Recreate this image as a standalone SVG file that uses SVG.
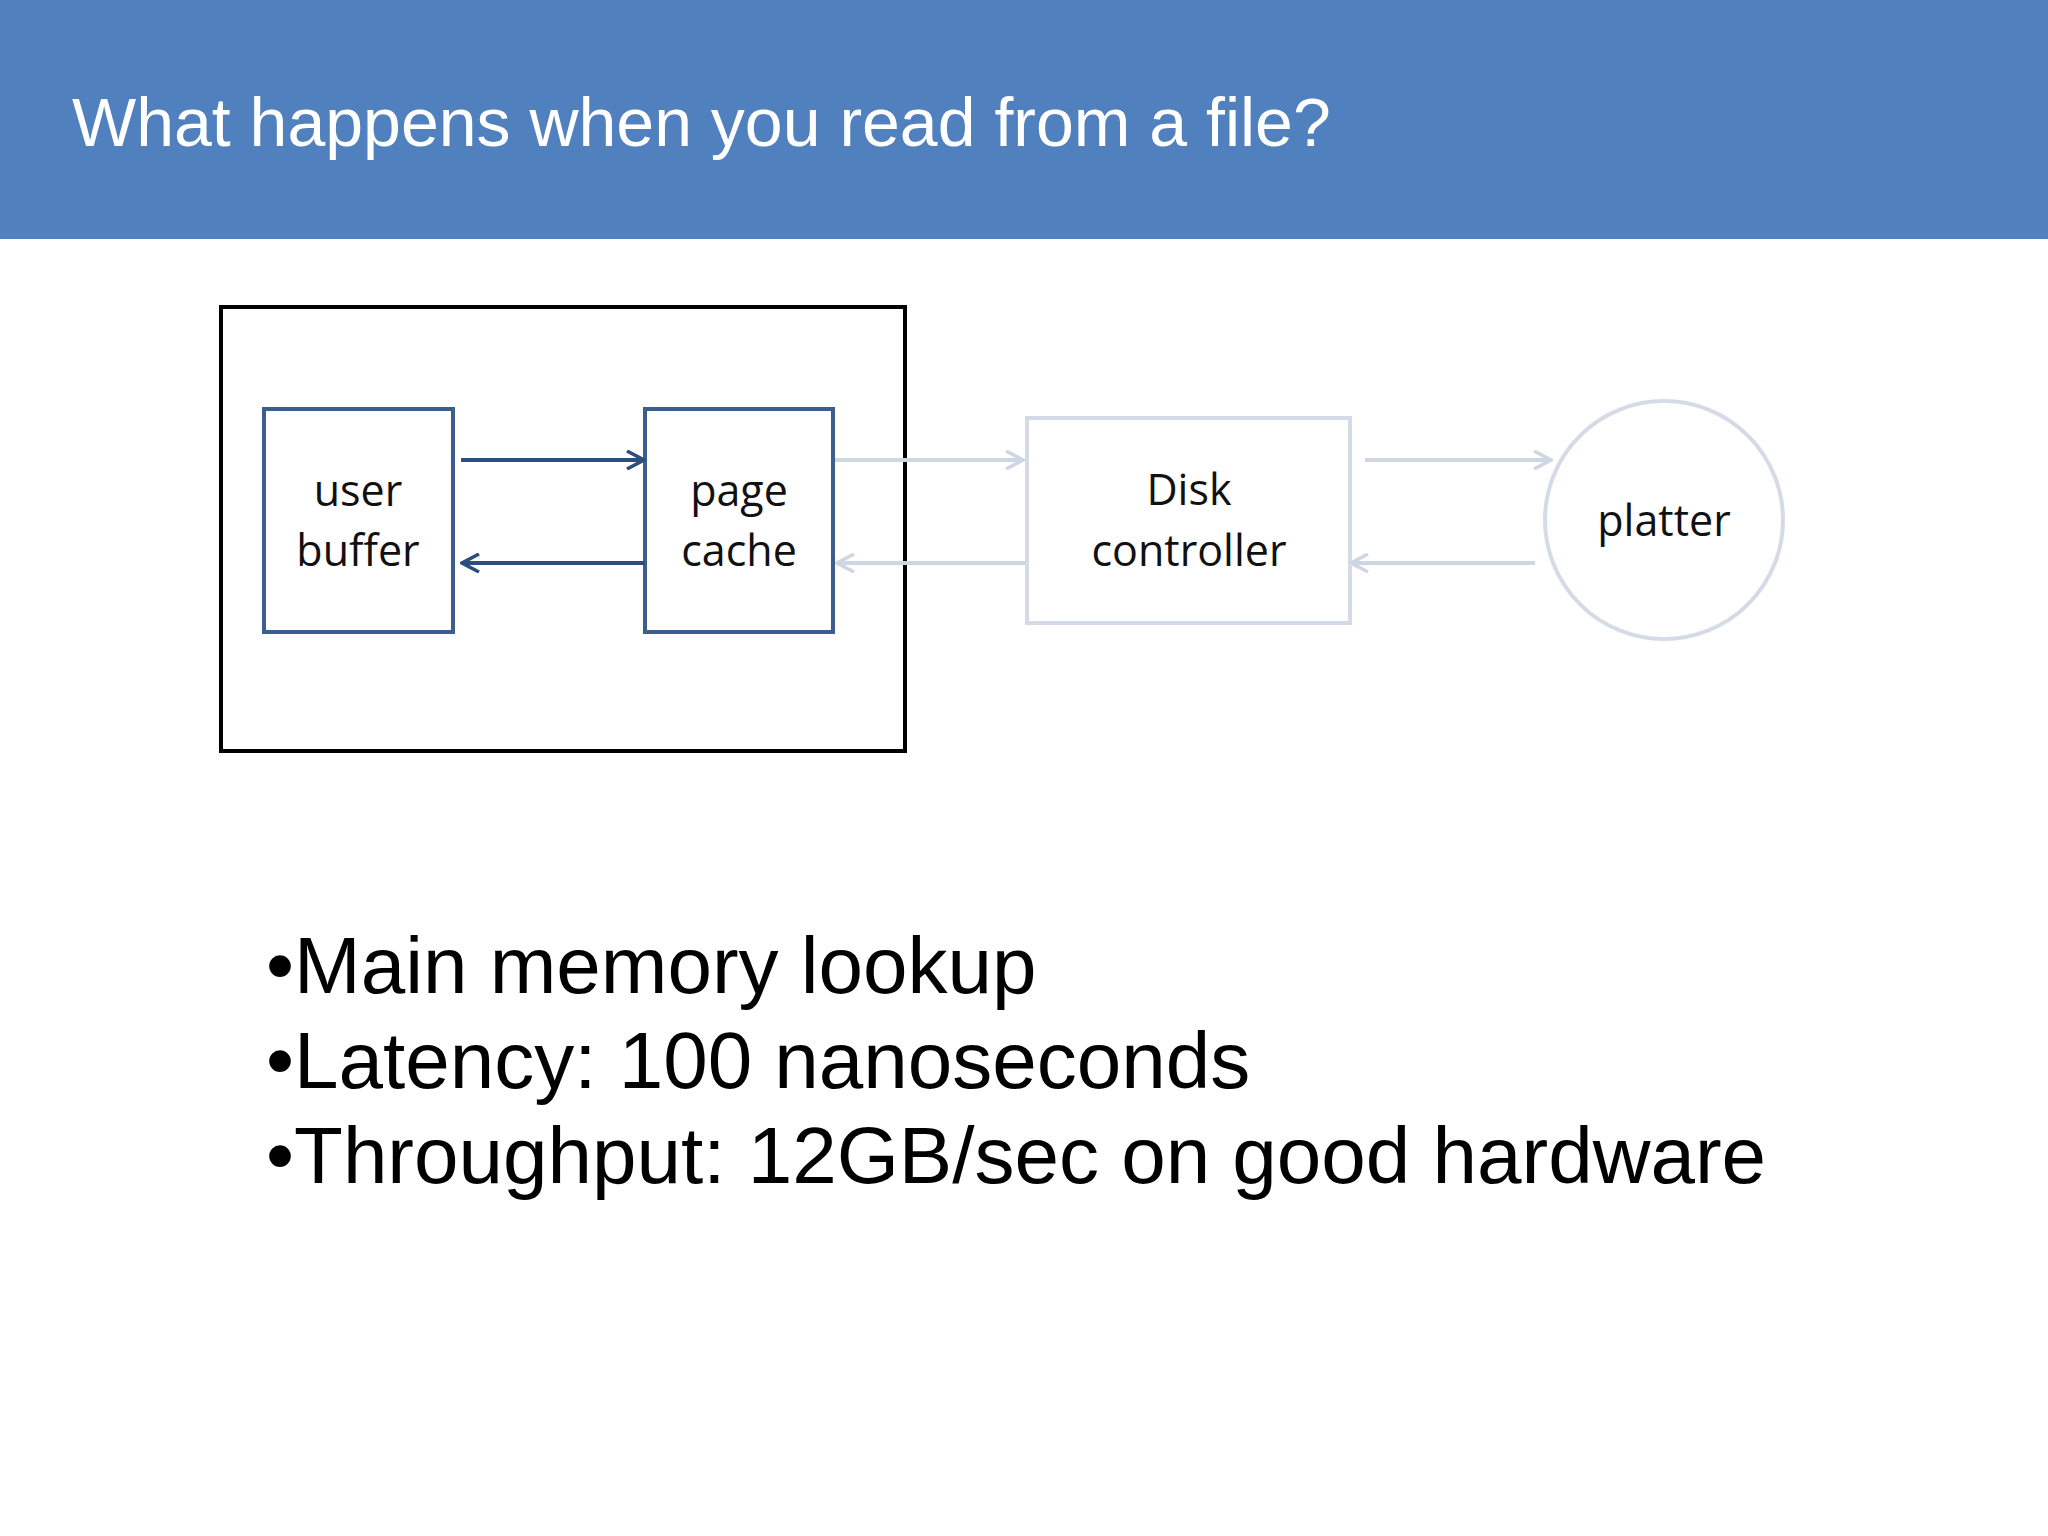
<svg xmlns="http://www.w3.org/2000/svg" width="2048" height="1536" viewBox="0 0 2048 1536">
<defs>
<style>
.lbl{font-family:"Open Sans","Liberation Sans",sans-serif;font-size:43px;fill:#111;text-anchor:middle}
.blt{font-family:"Liberation Sans",Arial,sans-serif;font-size:80px;fill:#000}
.dk{stroke:#2c4e7f;stroke-width:4;fill:none}
.lt{stroke:#cfd6e3;stroke-width:4;fill:none}
</style>
<marker id="ad" markerWidth="20" markerHeight="20" refX="17" refY="10" orient="auto" markerUnits="userSpaceOnUse" viewBox="0 0 20 20"><path d="M1,1 L18,10 L1,19" fill="none" stroke="#2c4e7f" stroke-width="3.5"/></marker>
<marker id="al" markerWidth="20" markerHeight="20" refX="17" refY="10" orient="auto" markerUnits="userSpaceOnUse" viewBox="0 0 20 20"><path d="M1,1 L18,10 L1,19" fill="none" stroke="#cfd6e3" stroke-width="3.5"/></marker>
</defs>
<rect width="2048" height="1536" fill="#fff"/>
<rect width="2048" height="239" fill="#5080be"/>
<text x="72" y="146" font-family="Liberation Sans,Arial,sans-serif" font-size="68" fill="#fff">What happens when you read from a file?</text>
<g id="memory"><rect x="221" y="307" width="684" height="444" fill="none" stroke="#000" stroke-width="4"/></g>
<g id="user-buffer"><rect x="264" y="409" width="189" height="223" fill="#fff" stroke="#3a5f8f" stroke-width="4"/><text class="lbl" x="358" y="506">user</text><text class="lbl" x="358" y="566">buffer</text></g>
<g id="page-cache"><rect x="645" y="409" width="188" height="223" fill="#fff" stroke="#3a5f8f" stroke-width="4"/><text class="lbl" x="739" y="506">page</text><text class="lbl" x="739" y="566">cache</text></g>
<g id="disk-controller"><rect x="1027" y="418" width="323" height="205" fill="#fff" stroke="#d5dbe6" stroke-width="4"/><text class="lbl" x="1189" y="505">Disk</text><text class="lbl" x="1189" y="566">controller</text></g>
<g id="platter"><circle cx="1664" cy="520" r="119" fill="#fff" stroke="#d5dbe6" stroke-width="4"/><text class="lbl" x="1664" y="536">platter</text></g>
<g id="connectors">
<line class="dk" x1="461" y1="460" x2="643" y2="460" marker-end="url(#ad)"/>
<line class="dk" x1="645" y1="563" x2="463" y2="563" marker-end="url(#ad)"/>
<line class="lt" x1="835" y1="460" x2="1022" y2="460" marker-end="url(#al)"/>
<line class="lt" x1="1025" y1="563" x2="838" y2="563" marker-end="url(#al)"/>
<line class="lt" x1="1365" y1="460" x2="1550" y2="460" marker-end="url(#al)"/>
<line class="lt" x1="1535" y1="563" x2="1352" y2="563" marker-end="url(#al)"/>
</g>
<text class="blt" x="266" y="993">•Main memory lookup</text>
<text class="blt" x="266" y="1088">•Latency: 100 nanoseconds</text>
<text class="blt" x="266" y="1183">•Throughput: 12GB/sec on good hardware</text>
</svg>
